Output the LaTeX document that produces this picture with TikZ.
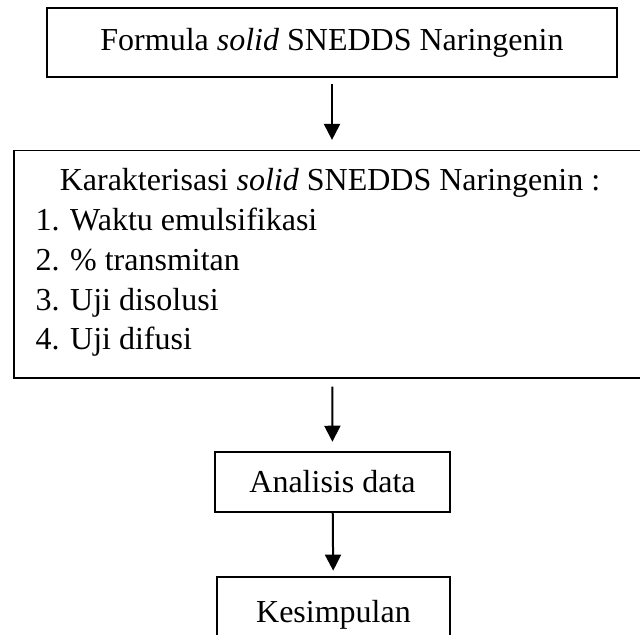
\documentclass[tikz,border=0pt]{standalone}
\usepackage{fontspec}
\setmainfont{Liberation Serif}
\usetikzlibrary{arrows.meta}

\tikzset{
  kotak/.style={draw, line width=0.5pt, inner sep=0pt},
  kotaktebal/.style={draw, line width=0.9pt, inner sep=0pt},
  panah/.style={line width=0.75pt, -{Triangle[width=6pt,length=6pt]}},
  teks/.style={inner sep=0pt}
}

\begin{document}
\begin{tikzpicture}[x=0.375pt, y=-0.375pt, every node/.append style={font=\fontsize{12pt}{14pt}\selectfont}]

\useasboundingbox (0,0) rectangle (640,634);

\node[kotak, minimum width=213.75pt, minimum height=25.9pt] (formula) at (332,42.5) {Formula \textit{solid} SNEDDS Naringenin};

\node[kotak, minimum width=238.5pt, minimum height=85.3pt] (karak) at (332,264.3) {};
    \node[teks, anchor=base] (judul) at (330,190) {Karakterisasi \textit{solid} SNEDDS Naringenin :};
    \node[teks, anchor=base west] (uji1) at (35,230) {1. Waktu emulsifikasi};
    \node[teks, anchor=base west] (uji2) at (35,270) {2. \% transmitan};
    \node[teks, anchor=base west] (uji3) at (35,310) {3. Uji disolusi};
    \node[teks, anchor=base west] (uji4) at (35,349) {4. Uji difusi};

\node[kotaktebal, minimum width=88.1pt, minimum height=22.5pt] (analisis) at (332.5,482) {Analisis data};

\node[kotaktebal, minimum width=87.4pt, minimum height=28pt] (kesimpulan) at (333.5,614.5) {Kesimpulan};

\draw[panah, shorten <=2.25pt, shorten >=3.75pt] (formula) -- (karak);
\draw[panah, shorten <=3pt, shorten >=3.4pt] (karak) -- (analisis);
\draw[panah, shorten >=2pt] (analisis) -- (kesimpulan);

\end{tikzpicture}
\end{document}
